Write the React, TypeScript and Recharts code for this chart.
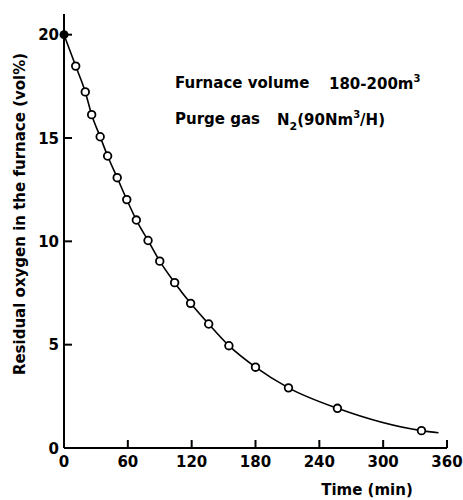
import { LineChart, Line, XAxis, YAxis, Customized } from 'recharts';

// purge time (min) and residual O2 (vol%)
const timeMin = [0, 11, 20, 26, 34, 41, 50, 59, 68, 79, 90, 104, 119, 136, 155, 180, 211, 257, 336];
const oxygenPct = [20, 18.48, 17.23, 16.13, 15.06, 14.13, 13.08, 12.02, 11.03, 10.04, 9.04, 8.0, 7.0, 6.0, 4.95, 3.91, 2.91, 1.92, 0.84];
// fitted curve runs a little past the last measurement
const curveEndTime = 352;
const curveEndOxygen = 0.74;

const xTicks = [0, 60, 120, 180, 240, 300, 360];
const yTicks = [0, 5, 10, 15, 20];

const data = [
  ...timeMin.map((t, i) => ({ time: t, o2: oxygenPct[i], measured: true })),
  { time: curveEndTime, o2: curveEndOxygen, measured: false },
];

const FONT = '"DejaVu Sans", sans-serif';

const XTick = (props: any) => {
  const { x, y, payload } = props;
  return (
    <g>
      {payload.value !== 0 && <line x1={x} y1={y} x2={x} y2={y - 8} stroke="#000" strokeWidth={2} />}
      <text x={x} y={y + 19} textAnchor="middle" fontFamily={FONT} fontWeight="bold" fontSize={15} fill="#000">
        {payload.value}
      </text>
    </g>
  );
};

const YTick = (props: any) => {
  const { x, y, payload } = props;
  return (
    <g>
      {payload.value !== 0 && <line x1={x} y1={y} x2={x + 8} y2={y} stroke="#000" strokeWidth={2} />}
      <text x={x - 5} y={y + 5.5} textAnchor="end" fontFamily={FONT} fontWeight="bold" fontSize={15} fill="#000">
        {payload.value}
      </text>
    </g>
  );
};

const renderDot = (props: any) => {
  const { cx, cy, index, payload } = props;
  if (!payload.measured) return <g key={`d-${index}`} />;
  if (index === 0) return <circle key={`d-${index}`} cx={cx} cy={cy} r={4.5} fill="#000" />;
  return <circle key={`d-${index}`} cx={cx} cy={cy} r={3.8} fill="#fff" stroke="#000" strokeWidth={1.8} />;
};

const Annotations = () => (
  <g fontFamily={FONT} fontWeight="bold" fontSize={15} fill="#000">
    <text x={175} y={88}>Furnace volume</text>
    <text x={329} y={89}>
      180-200m<tspan fontSize={10} dy={-7}>3</tspan>
    </text>
    <text x={175} y={124}>Purge gas</text>
    <text x={277} y={125}>
      N<tspan fontSize={11} dy={5}>2</tspan>
      <tspan dy={-5}>(90Nm</tspan>
      <tspan fontSize={10} dy={-7}>3</tspan>
      <tspan dy={7}>/H)</tspan>
    </text>
    <text x={25} y={214} transform="rotate(-90 25 214)" textAnchor="middle">
      Residual oxygen in the furnace (vol%)
    </text>
    <text x={367} y={495} textAnchor="middle">Time (min)</text>
  </g>
);

const App = () => {
  return (
    <div style={{ position: 'absolute', left: 0, top: 0, background: '#fff' }}>
      <LineChart width={463} height={500} data={data} margin={{ top: 14, right: 16, left: 0, bottom: 0 }}>
        <XAxis
          dataKey="time"
          type="number"
          domain={[0, 360]}
          ticks={xTicks}
          interval={0}
          height={52}
          tickSize={0}
          tickMargin={0}
          tickLine={false}
          axisLine={{ stroke: '#000', strokeWidth: 2 }}
          tick={XTick}
        />
        <YAxis
          type="number"
          domain={[0, 21]}
          ticks={yTicks}
          interval={0}
          width={64}
          tickSize={0}
          tickMargin={0}
          tickLine={false}
          axisLine={{ stroke: '#000', strokeWidth: 2 }}
          tick={YTick}
        />
        <Line
          type="monotone"
          dataKey="o2"
          stroke="#000"
          strokeWidth={1.6}
          dot={renderDot}
          activeDot={false}
          isAnimationActive={false}
        />
        <Customized component={Annotations} />
      </LineChart>
    </div>
  );
};

export default App;
